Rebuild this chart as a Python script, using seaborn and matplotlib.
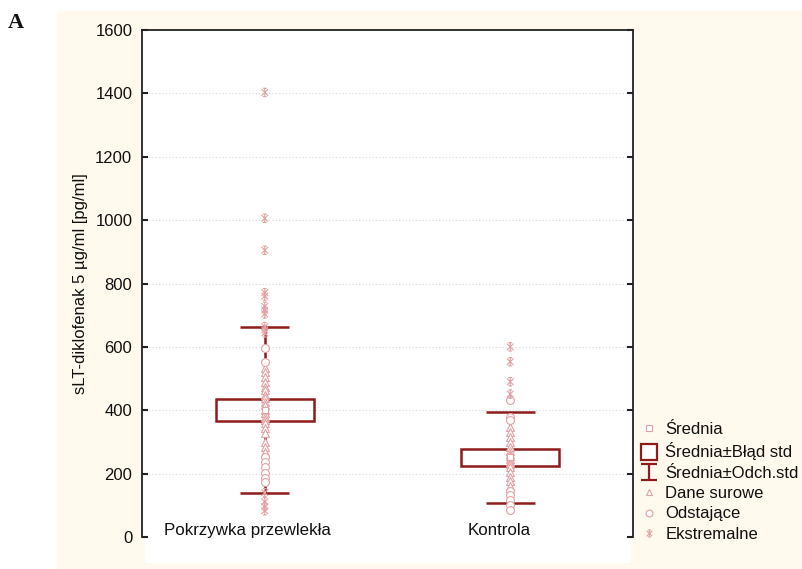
import numpy as np
import pandas as pd
import matplotlib
matplotlib.use("Agg")
import matplotlib.pyplot as plt
import seaborn as sns
from matplotlib.lines import Line2D
from matplotlib.patches import Rectangle
from matplotlib.path import Path

# --- data -------------------------------------------------------------
grupy = ["Pokrzywka przewlekła", "Kontrola"]
srednia = [401, 251]
blad_std = [34, 26]
odch_std = [262, 144]

surowe_pokrzywka = [533, 521, 506, 490, 474, 464, 448, 439, 427, 417, 401,
                    391, 380, 369, 360, 345, 328, 300, 285, 269]
odstajace_pokrzywka = [595, 553, 253, 238, 222, 201, 185, 175]
ekstremalne_pokrzywka = [1403, 1006, 905, 771, 760, 728, 716, 704, 664, 653,
                         644, 140, 111, 96, 83]

surowe_kontrola = [348, 332, 316, 300, 284, 270, 262, 255, 246, 238, 230,
                   222, 206, 190, 178, 160]
odstajace_kontrola = [432, 380, 369, 145, 132, 117, 101, 85]
ekstremalne_kontrola = [600, 553, 490, 451]

y_ticks = [0, 200, 400, 600, 800, 1000, 1200, 1400, 1600]
y_label = "sLT-diklofenak 5 µg/ml [pg/ml]"
legend_labels = ["Średnia", "Średnia±Błąd std", "Średnia±Odch.std",
                 "Dane surowe", "Odstające", "Ekstremalne"]

# --- style ------------------------------------------------------------
sns.set_style("white")
plt.rcParams["font.family"] = ["Liberation Sans", "DejaVu Sans"]
plt.rcParams["font.size"] = 12
plt.rcParams["text.color"] = "#111111"
plt.rcParams["axes.labelcolor"] = "#111111"
plt.rcParams["ytick.color"] = "#111111"

CREAM = "#FFF9EE"
DARK = "#8E1B1B"
PINK = "#E3A2A4"
SPINE = "#222222"

# asterisk marker: vertical stroke, two diagonals and short end bars
ast_verts = [(0, -1), (0, 1),
             (-0.8, -0.8), (0.8, 0.8),
             (-0.8, 0.8), (0.8, -0.8),
             (-0.45, 1), (0.45, 1),
             (-0.45, -1), (0.45, -1)]
ast_codes = [Path.MOVETO, Path.LINETO] * 5
ASTERISK = Path(ast_verts, ast_codes)

ibeam_verts = [(-1, 1), (1, 1), (0, 1), (0, -1), (-1, -1), (1, -1)]
ibeam_codes = [Path.MOVETO, Path.LINETO, Path.MOVETO, Path.LINETO,
               Path.MOVETO, Path.LINETO]
IBEAM = Path(ibeam_verts, ibeam_codes)

# --- long table of individual observations ----------------------------
rows = []
for g, (sur, ods, eks) in zip(grupy, [
        (surowe_pokrzywka, odstajace_pokrzywka, ekstremalne_pokrzywka),
        (surowe_kontrola, odstajace_kontrola, ekstremalne_kontrola)]):
    for rodzaj, vals in (("surowe", sur), ("odstajace", ods), ("ekstremalne", eks)):
        for v in vals:
            rows.append({"grupa": g, "pozycja": grupy.index(g),
                         "wartosc": v, "rodzaj": rodzaj})
df = pd.DataFrame(rows)
df_srednie = pd.DataFrame({"pozycja": range(len(grupy)), "srednia": srednia})

# --- figure -----------------------------------------------------------
W, H = 803, 569
fig = plt.figure(figsize=(W / 100, H / 100), dpi=100, facecolor="white")

# cream panel behind the chart and white strip under the plot area
fig.patches.append(Rectangle((57 / W, 0), 1 - 57 / W, 1 - 11 / H,
                             transform=fig.transFigure, color=CREAM, zorder=-10))
fig.patches.append(Rectangle((145 / W, (H - 562) / H), (630 - 145) / W, 26 / H,
                             transform=fig.transFigure, color="white", zorder=-9))

ax = fig.add_axes([142 / W, (H - 537) / H, (633 - 142) / W, (537 - 30) / H])
ax.set_facecolor("white")

box_w = 0.4
cap_w = 0.2
for i in range(len(grupy)):
    m, se, sd = srednia[i], blad_std[i], odch_std[i]
    ax.vlines(i, m - sd, m + sd, color=DARK, lw=1.8, zorder=2)
    ax.hlines([m - sd, m + sd], i - cap_w / 2, i + cap_w / 2,
              color=DARK, lw=1.8, zorder=2)
    ax.add_patch(Rectangle((i - box_w / 2, m - se), box_w, 2 * se,
                           facecolor="none", edgecolor=DARK, lw=1.8, zorder=3))

sty = dict(ax=ax, legend=False, zorder=4)
sns.scatterplot(data=df[df.rodzaj == "surowe"], x="pozycja", y="wartosc",
                marker="^", s=32, facecolors="white", edgecolor=PINK,
                linewidth=0.8, **sty)
sns.scatterplot(data=df[df.rodzaj == "odstajace"], x="pozycja", y="wartosc",
                marker="o", s=32, facecolors="white", edgecolor=PINK,
                linewidth=0.8, **sty)
sns.scatterplot(data=df[df.rodzaj == "ekstremalne"], x="pozycja", y="wartosc",
                marker=ASTERISK, s=36, facecolors="none", edgecolor=PINK,
                linewidth=0.8, **sty)
sns.scatterplot(data=df_srednie, x="pozycja", y="srednia",
                marker="s", s=22, facecolors="white", edgecolor=PINK,
                linewidth=0.8, **sty)

ax.set_xlim(-0.5, 1.5)
ax.set_ylim(0, 1600)
ax.set_yticks(y_ticks)
ax.set_xticks([])
ax.set_xlabel("")
ax.set_ylabel(y_label, fontsize=12, labelpad=5)

ax.tick_params(axis="y", direction="in", left=True, right=True,
               length=4, width=1.5, pad=7, labelsize=12, colors=SPINE,
               labelcolor="#111111")
for side in ("left", "right", "top"):
    ax.spines[side].set_visible(True)
    ax.spines[side].set_color(SPINE)
    ax.spines[side].set_linewidth(1.3)
ax.spines["bottom"].set_visible(False)

ax.yaxis.grid(True, linestyle=(0, (1, 2)), color="#d9d9d9", lw=0.8)
gl = ax.get_ygridlines()
gl[0].set_visible(False)
gl[-1].set_visible(False)
ax.set_axisbelow(True)

# category names sit just above the bottom edge
label_shift = [-0.07, -0.045]
for i, g in enumerate(grupy):
    ax.text(i + label_shift[i], 7, g, ha="center", va="baseline",
            fontsize=12.2, color="#111111", zorder=5)

# panel letter
fig.text(8 / W, 1 - 28 / H, "A", family="Liberation Serif", weight="bold",
         fontsize=16, ha="left", va="baseline")

handles = [
    Line2D([], [], ls="none", marker="s", ms=5, mfc="white", mec=PINK, mew=0.8),
    Line2D([], [], ls="none", marker="s", ms=12, mfc="white", mec=DARK, mew=1.6),
    Line2D([], [], ls="none", marker=IBEAM, ms=12, mec=DARK, mew=1.6),
    Line2D([], [], ls="none", marker="^", ms=5, mfc="white", mec=PINK, mew=0.8),
    Line2D([], [], ls="none", marker="o", ms=5, mfc="white", mec=PINK, mew=0.8),
    Line2D([], [], ls="none", marker=ASTERISK, ms=5, mec=PINK, mew=0.8),
]
fig.legend(handles, legend_labels, loc="upper left",
           bbox_to_anchor=(641 / W, 1 - 422 / H), frameon=False,
           borderpad=0, borderaxespad=0, handlelength=1.0, handletextpad=0.45,
           labelspacing=0.32, fontsize=12)

fig.savefig("out.png", dpi=100, facecolor="white")
